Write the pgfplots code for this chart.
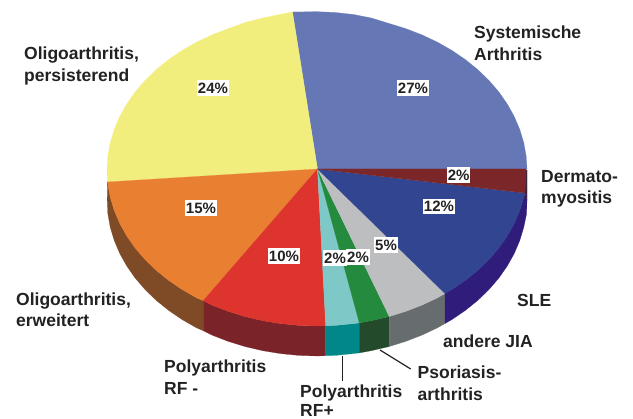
\documentclass[border=0pt]{standalone}
\usepackage{pgfplots}
\pgfplotsset{compat=1.18}
\usepackage{fontspec}
\setmainfont{Liberation Sans}
\definecolor{cblue}{HTML}{6578B5}
\definecolor{cyellow}{HTML}{F2EE7E}
\definecolor{corange}{HTML}{E97F30}
\definecolor{cred}{HTML}{DD352D}
\definecolor{cteal}{HTML}{7FC8C8}
\definecolor{cgreen}{HTML}{248A3E}
\definecolor{cgrey}{HTML}{BDBEC0}
\definecolor{cnavy}{HTML}{324590}
\definecolor{cmaroon}{HTML}{7B2628}
\definecolor{sorange}{HTML}{7F4A26}
\definecolor{sred}{HTML}{7A2329}
\definecolor{steal}{HTML}{00878A}
\definecolor{sgreen}{HTML}{234A2A}
\definecolor{sgrey}{HTML}{676D6E}
\definecolor{snavy}{HTML}{2F1C7B}
\definecolor{smaroon}{HTML}{3B2440}
\definecolor{txt}{HTML}{222222}
\newcommand{\lab}[3]{\node[anchor=base west,inner sep=0pt,text=txt,font=\fontsize{17.5}{20}\selectfont\bfseries] at (axis cs:#1,#2) {#3};}
\newcommand{\pct}[3]{\node[fill=white,inner xsep=1pt,inner ysep=2.5pt,text=txt,font=\fontsize{15}{18}\selectfont\bfseries] at (axis cs:#1,#2) {#3};}
\begin{document}
\begin{tikzpicture}
\path[use as bounding box] (0,0) rectangle (633pt,419pt);
\begin{axis}[at={(0,0)},anchor=south west,scale only axis,width=633pt,height=419pt,xmin=0,xmax=633,ymin=0,ymax=419,y dir=reverse,hide axis,clip=false]
% side walls
\addplot[fill=sorange,draw=sorange,line width=0.2pt] coordinates {(107.5,182)(107.8,183.6)(110.2,197.1)(114.2,210.4)(119.7,223.4)(126.7,235.9)(135.1,248)(145,259.5)(156.1,270.3)(168.5,280.3)(182,289.5)(196.5,297.8)(203.3,300.7)(203.3,330.7)(196.5,327.8)(182,319.5)(168.5,310.3)(156.1,300.3)(145,289.5)(135.1,278)(126.7,265.9)(119.7,253.4)(114.2,240.4)(110.2,227.1)(107.8,213.6)(107.2,200)} --cycle;
\addplot[fill=sred,draw=sred,line width=0.2pt] coordinates {(203.3,300.7)(212,305.1)(228.3,311.4)(245.2,316.6)(262.7,320.7)(280.5,323.6)(298.7,325.4)(317,326)(325.7,325.7)(325.7,355.7)(317,356)(298.7,355.4)(280.5,353.6)(262.7,350.7)(245.2,346.6)(228.3,341.4)(212,335.1)(203.3,330.7)} --cycle;
\addplot[fill=steal,draw=steal,line width=0.2pt] coordinates {(325.7,325.7)(335.3,325.4)(353.5,323.6)(359.3,322.9)(359.3,352.9)(353.5,353.6)(335.3,355.4)(325.7,355.7)} --cycle;
\addplot[fill=sgreen,draw=sgreen,line width=0.2pt] coordinates {(359.3,322.9)(371.3,320.7)(389.3,316.5)(389.3,346.5)(371.3,350.7)(359.3,352.9)} --cycle;
\addplot[fill=sgrey,draw=sgrey,line width=0.2pt] coordinates {(389.3,316.5)(405.7,311.4)(422,305.1)(437.5,297.8)(445,293.5)(445,323.5)(437.5,327.8)(422,335.1)(405.7,341.4)(389.3,346.5)} --cycle;
\addplot[fill=snavy,draw=snavy,line width=0.2pt] coordinates {(445,293.5)(452,289.5)(465.5,280.3)(477.9,270.3)(489,259.5)(498.9,248)(507.3,235.9)(514.3,223.4)(519.8,210.4)(523.8,197.1)(524.8,193)(527,200)(526.6,213.6)(523.8,227.1)(519.8,240.4)(514.3,253.4)(507.3,265.9)(498.9,278)(489,289.5)(477.9,300.3)(465.5,310.3)(452,319.5)(445,323.5)} --cycle;
\addplot[fill=smaroon,draw=smaroon,line width=0.2pt] coordinates {(525.5,170)(527,170)(527,200)(524.8,193)} --cycle;
% top faces
\addplot[fill=cblue,draw=cblue,line width=0.2pt] coordinates {(317.5,169)(527,169)(526.2,156.4)(523.8,142.9)(519.8,129.6)(514.3,116.6)(507.3,104.1)(498.9,92)(489,80.5)(477.9,69.7)(465.5,59.7)(452,50.5)(437.5,42.2)(422,34.9)(405.7,28.6)(388.8,23.4)(371.3,18)(353.5,14.5)(335.3,12.5)(317,11.7)(292.5,12)} --cycle;
\addplot[fill=cyellow,draw=cyellow,line width=0.2pt] coordinates {(317.5,169)(292.5,12)(280.5,14.3)(262.7,18)(245.2,22.5)(228.3,28.6)(212,34.9)(196.5,42.2)(182,50.5)(168.5,59.7)(156.1,69.7)(145,80.5)(135.1,92)(126.7,104.1)(119.7,116.6)(114.2,129.6)(110.2,142.9)(107.8,156.4)(107,170)(107.5,182)} --cycle;
\addplot[fill=corange,draw=corange,line width=0.2pt] coordinates {(317.5,169)(107.5,182)(107.8,183.6)(110.2,197.1)(114.2,210.4)(119.7,223.4)(126.7,235.9)(135.1,248)(145,259.5)(156.1,270.3)(168.5,280.3)(182,289.5)(196.5,297.8)(203.3,300.7)} --cycle;
\addplot[fill=cred,draw=cred,line width=0.2pt] coordinates {(317.5,169)(203.3,300.7)(212,305.1)(228.3,311.4)(245.2,316.6)(262.7,320.7)(280.5,323.6)(298.7,325.4)(317,326)(325.7,325.7)} --cycle;
\addplot[fill=cteal,draw=cteal,line width=0.2pt] coordinates {(317.5,169)(325.7,325.7)(335.3,325.4)(353.5,323.6)(359.3,322.9)} --cycle;
\addplot[fill=cgreen,draw=cgreen,line width=0.2pt] coordinates {(317.5,169)(359.3,322.9)(371.3,320.7)(389.3,316.5)} --cycle;
\addplot[fill=cgrey,draw=cgrey,line width=0.2pt] coordinates {(317.5,169)(389.3,316.5)(405.7,311.4)(422,305.1)(437.5,297.8)(445,293.5)} --cycle;
\addplot[fill=cnavy,draw=cnavy,line width=0.2pt] coordinates {(317.5,169)(445,293.5)(452,289.5)(465.5,280.3)(477.9,270.3)(489,259.5)(498.9,248)(507.3,235.9)(514.3,223.4)(519.8,210.4)(523.8,197.1)(524.8,193)} --cycle;
\addplot[fill=cmaroon,draw=cmaroon,line width=0.2pt] coordinates {(317.5,169)(524.8,193)(525.8,183.6)(526,169)} --cycle;
% leader lines
\addplot[draw=txt,line width=1.2pt] coordinates {(342.5,356)(342.5,381.5)};
\addplot[draw=txt,line width=1.2pt] coordinates {(380,350)(410.7,369)};
% percentages
\pct{413}{88}{27\%}
\pct{213}{88}{24\%}
\pct{458.6}{175}{2\%}
\pct{439}{206.5}{12\%}
\pct{201}{208}{15\%}
\pct{284}{256}{10\%}
\pct{386}{245}{5\%}
\pct{335}{258}{2\%}
\pct{358}{257}{2\%}
% labels
\lab{474}{39}{Systemische}
\lab{474}{60.5}{Arthritis}
\lab{24}{60}{Oligoarthritis,}
\lab{24}{81.5}{persisterend}
\lab{541}{182.5}{Dermato-}
\lab{541}{204}{myositis}
\lab{517}{306.5}{SLE}
\lab{443}{348}{andere JIA}
\lab{16}{305.5}{Oligoarthritis,}
\lab{16}{327}{erweitert}
\lab{164}{373}{Polyarthritis}
\lab{164}{395}{RF -}
\lab{300}{398}{Polyarthritis}
\lab{300}{416.5}{RF+}
\lab{417.5}{379}{Psoriasis-}
\lab{417.5}{400.5}{arthritis}
\end{axis}
\end{tikzpicture}
\end{document}
